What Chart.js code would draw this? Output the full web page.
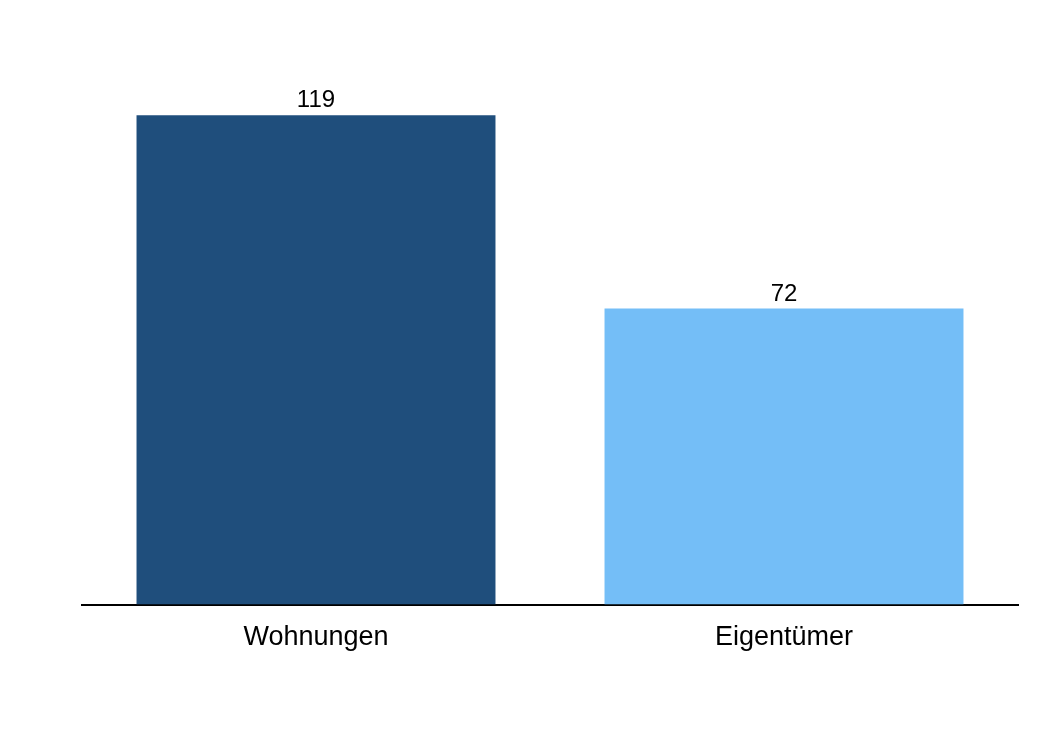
<!DOCTYPE html>
<html>
<head>
<meta charset="utf-8">
<script src="https://cdn.jsdelivr.net/npm/chart.js@4"></script>
<style>
html,body{margin:0;padding:0;background:#fff;}
#wrap{width:1060px;height:756px;position:relative;}
</style>
</head>
<body>
<div id="wrap"><canvas id="c" width="1060" height="756"></canvas></div>
<script>
const categories = ["Wohnungen", "Eigentümer"];
const values = [119, 72];
const barColors = ["#1f4e7c", "#74bef7"];

const valueLabels = {
  id: 'valueLabels',
  afterDatasetsDraw(chart) {
    const ctx = chart.ctx;
    const meta = chart.getDatasetMeta(0);
    ctx.save();
    ctx.font = '24px "Liberation Sans", Arial, sans-serif';
    ctx.fillStyle = '#000';
    ctx.textAlign = 'center';
    ctx.textBaseline = 'alphabetic';
    meta.data.forEach((bar, i) => {
      ctx.fillText(String(values[i]), bar.x, bar.y - 8);
    });
    ctx.restore();
  }
};

new Chart(document.getElementById('c'), {
  type: 'bar',
  data: {
    labels: categories,
    datasets: [{
      data: values,
      backgroundColor: barColors,
      borderWidth: 0,
      barPercentage: 1,
      categoryPercentage: 0.767
    }]
  },
  options: {
    responsive: false,
    animation: false,
    layout: { padding: { left: 82, right: 42, top: 29, bottom: 93 } },
    plugins: { legend: { display: false }, tooltip: { enabled: false } },
    scales: {
      x: {
        grid: { display: false },
        border: { display: true, color: '#000', width: 2 },
        ticks: {
          color: '#000',
          padding: 9,
          font: { family: '"Liberation Sans", Arial, sans-serif', size: 27 }
        }
      },
      y: {
        display: false,
        min: 0,
        max: 140
      }
    }
  },
  plugins: [valueLabels]
});
</script>
</body>
</html>
